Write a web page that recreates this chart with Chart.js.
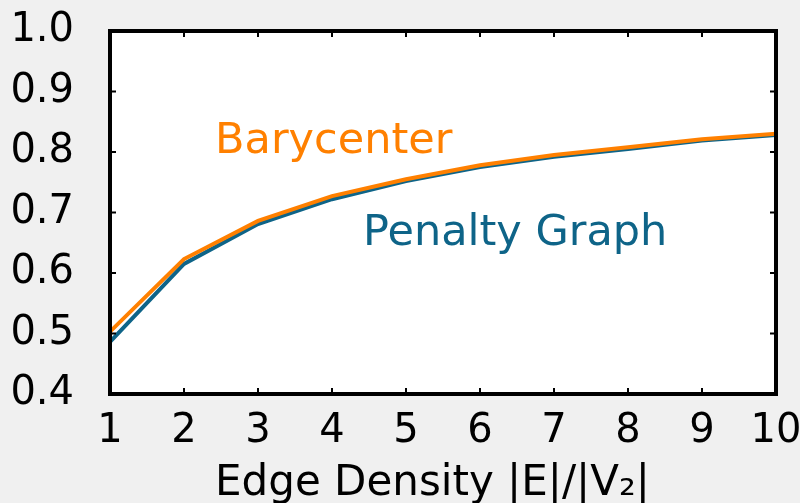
<!DOCTYPE html>
<html>
<head>
<meta charset="utf-8">
<script src="https://cdn.jsdelivr.net/npm/chart.js@4.4.1/dist/chart.umd.min.js"></script>
<style>
  html, body { margin: 0; padding: 0; background: #f0f0f0; }
  #wrap { width: 800px; height: 503px; }
</style>
</head>
<body>
<div id="wrap"><canvas id="chart" width="800" height="503"></canvas></div>
<script>
// edge density |E|/|V2|
const densities = [1, 2, 3, 4, 5, 6, 7, 8, 9, 10];
const barycenter = [0.503, 0.623, 0.686, 0.727, 0.755, 0.778, 0.795, 0.808, 0.821, 0.830];
const penaltyGraph = [0.486, 0.615, 0.681, 0.722, 0.752, 0.775, 0.792, 0.805, 0.819, 0.828];
const yTicks = [0.4, 0.5, 0.6, 0.7, 0.8, 0.9, 1.0];

const ORANGE = '#ff8000';
const BLUE = '#0e6488';
const FONT = 'DejaVu Sans';

// white plot area, black frame, inward tick marks, series labels
const framePlugin = {
  id: 'frame',
  beforeDraw(chart) {
    const { ctx, chartArea: a } = chart;
    ctx.save();
    ctx.fillStyle = '#ffffff';
    ctx.fillRect(a.left, a.top, a.right - a.left, a.bottom - a.top);
    ctx.restore();
  },
  afterDraw(chart) {
    const { ctx, chartArea: a, scales } = chart;
    ctx.save();
    ctx.strokeStyle = '#000';
    ctx.lineWidth = 4;
    ctx.strokeRect(a.left, a.top, a.right - a.left, a.bottom - a.top);

    ctx.lineWidth = 2;
    ctx.beginPath();
    densities.forEach(v => {
      const x = scales.x.getPixelForValue(v);
      ctx.moveTo(x, a.bottom); ctx.lineTo(x, a.bottom - 6);
      ctx.moveTo(x, a.top); ctx.lineTo(x, a.top + 6);
    });
    yTicks.forEach(v => {
      const y = scales.y.getPixelForValue(v);
      ctx.moveTo(a.left, y); ctx.lineTo(a.left + 6, y);
      ctx.moveTo(a.right, y); ctx.lineTo(a.right - 6, y);
    });
    ctx.stroke();

    ctx.font = `43px "${FONT}"`;
    ctx.textBaseline = 'middle';
    ctx.textAlign = 'left';
    ctx.fillStyle = ORANGE;
    ctx.fillText('Barycenter', scales.x.getPixelForValue(2.42), scales.y.getPixelForValue(0.817));
    ctx.fillStyle = BLUE;
    ctx.fillText('Penalty Graph', scales.x.getPixelForValue(4.42), scales.y.getPixelForValue(0.665));
    ctx.restore();
  }
};

new Chart(document.getElementById('chart'), {
  type: 'line',
  data: {
    labels: densities,
    datasets: [
      {
        label: 'Barycenter',
        data: densities.map((d, i) => ({ x: d, y: barycenter[i] })),
        borderColor: ORANGE,
        borderWidth: 4,
        pointRadius: 0,
        tension: 0,
        fill: false
      },
      {
        label: 'Penalty Graph',
        data: densities.map((d, i) => ({ x: d, y: penaltyGraph[i] })),
        borderColor: BLUE,
        borderWidth: 4,
        pointRadius: 0,
        tension: 0,
        fill: false
      }
    ]
  },
  options: {
    responsive: false,
    animation: false,
    events: [],
    layout: { padding: { top: 31, right: 24, left: 0, bottom: 0 } },
    plugins: { legend: { display: false }, tooltip: { enabled: false } },
    scales: {
      x: {
        type: 'linear',
        min: 1,
        max: 10,
        afterBuildTicks: s => { s.ticks = densities.map(v => ({ value: v })); },
        afterFit: s => { s.height = 109; s.paddingLeft = 0; s.paddingRight = 0; },
        grid: { display: false, drawTicks: false },
        border: { display: false },
        ticks: {
          color: '#000',
          font: { family: FONT, size: 40 },
          padding: 14,
          maxRotation: 0,
          autoSkip: false
        },
        title: {
          display: true,
          // trailing en space nudges the centred title a little to the left
          text: 'Edge Density |E|/|V₂|\u2002',
          color: '#000',
          font: { family: FONT, size: 42 },
          padding: { top: 6, bottom: -6 }
        }
      },
      y: {
        min: 0.4,
        max: 1.0,
        afterBuildTicks: s => { s.ticks = yTicks.map(v => ({ value: v })); },
        afterFit: s => { s.width = 110; s.paddingTop = 0; s.paddingBottom = 0; },
        grid: { display: false, drawTicks: false },
        border: { display: false },
        ticks: {
          color: '#000',
          font: { family: FONT, size: 40 },
          padding: 36,
          callback: v => v.toFixed(1)
        }
      }
    }
  },
  plugins: [framePlugin]
});
</script>
</body>
</html>
